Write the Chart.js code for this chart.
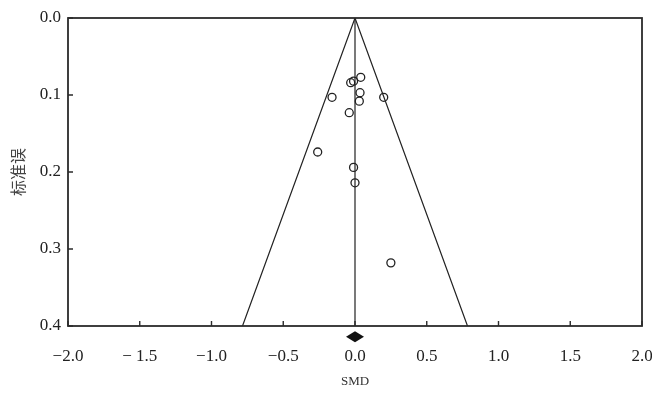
<!DOCTYPE html>
<html>
<head>
<meta charset="utf-8">
<script src="https://cdn.jsdelivr.net/npm/chart.js@4.4.1/dist/chart.umd.min.js"></script>
<style>
  html, body { margin: 0; padding: 0; background: #fff; }
  #wrap { width: 652px; height: 393px; position: relative; }
</style>
</head>
<body>
<div id="wrap"><canvas id="funnelChart"></canvas></div>
<script>
// study estimates (SMD) and their standard errors
const studySMD = [-0.03, -0.01, 0.04, 0.035, 0.03, -0.04, -0.16, 0.20, -0.26, -0.01, 0.0, 0.25];
const studySE  = [0.084, 0.082, 0.077, 0.097, 0.108, 0.123, 0.103, 0.103, 0.174, 0.194, 0.214, 0.318];

// pooled effect and funnel limits
const pooledSMD = 0.0;
const pooledDiamondSE = 0.414;
const funnelSE = [0.4, 0.0, 0.4];
const funnelSMD = [-0.784, 0.0, 0.784];

const xTicks = [-2.0, -1.5, -1.0, -0.5, 0.0, 0.5, 1.0, 1.5, 2.0];
const xTickLabels = ['\u22122.0', '\u2212 1.5', '\u22121.0', '\u22120.5', '0.0', '0.5', '1.0', '1.5', '2.0'];
const yTicks = [0.0, 0.1, 0.2, 0.3, 0.4];
const yTickLabels = ['0.0', '0.1', '0.2', '0.3', '0.4'];

const serif = '"Liberation Serif", "DejaVu Serif", serif';

// box round the plot, inward ticks, and the pooled diamond under the axis
const frame = {
    id: 'frame',
    afterDraw(chart) {
        const { ctx, chartArea: a, scales } = chart;
        ctx.save();
        ctx.strokeStyle = '#2b2b2b';
        ctx.lineWidth = 1.8;
        ctx.strokeRect(a.left, a.top, a.right - a.left, a.bottom - a.top);
        ctx.lineWidth = 1.4;
        ctx.beginPath();
        xTicks.forEach(v => {
            const px = scales.x.getPixelForValue(v);
            ctx.moveTo(px, a.bottom);
            ctx.lineTo(px, a.bottom - 5);
        });
        yTicks.forEach(v => {
            const py = scales.y.getPixelForValue(v);
            ctx.moveTo(a.left, py);
            ctx.lineTo(a.left + 5, py);
        });
        ctx.stroke();

        const dx = scales.x.getPixelForValue(pooledSMD);
        const dy = scales.y.getPixelForValue(pooledDiamondSE);
        ctx.fillStyle = '#111';
        ctx.beginPath();
        ctx.moveTo(dx - 9, dy);
        ctx.lineTo(dx, dy - 5.5);
        ctx.lineTo(dx + 9, dy);
        ctx.lineTo(dx, dy + 5.5);
        ctx.closePath();
        ctx.fill();
        ctx.restore();
    }
};

const ctx = document.getElementById('funnelChart').getContext('2d');

new Chart(ctx, {
    type: 'scatter',
    data: {
        datasets: [
            {
                label: 'studies',
                data: studySMD.map((v, i) => ({ x: v, y: studySE[i] })),
                pointRadius: 4,
                pointBorderWidth: 1.3,
                pointBackgroundColor: 'rgba(255,255,255,0)',
                pointBorderColor: '#222',
                order: 1
            },
            {
                label: 'funnel',
                type: 'line',
                data: funnelSMD.map((v, i) => ({ x: v, y: funnelSE[i] })),
                borderColor: '#222',
                borderWidth: 1.2,
                pointRadius: 0,
                fill: false,
                tension: 0,
                order: 2
            },
            {
                label: 'pooled',
                type: 'line',
                data: [{ x: pooledSMD, y: 0 }, { x: pooledSMD, y: 0.4 }],
                borderColor: '#222',
                borderWidth: 1.2,
                pointRadius: 0,
                fill: false,
                order: 3
            }
        ]
    },
    options: {
        responsive: true,
        maintainAspectRatio: false,
        animation: false,
        layout: {
            padding: { top: 18, right: 10, left: 0, bottom: 0 }
        },
        plugins: {
            legend: { display: false },
            tooltip: { enabled: false }
        },
        scales: {
            x: {
                type: 'linear',
                min: -2,
                max: 2,
                afterBuildTicks: scale => {
                    scale.ticks = xTicks.map(v => ({ value: v }));
                },
                afterFit: scale => {
                    scale.height = 67;
                    scale.paddingLeft = 0;
                    scale.paddingRight = 0;
                },
                grid: { display: false, drawTicks: false },
                border: { display: false },
                ticks: {
                    padding: 20,
                    color: '#222',
                    font: { family: serif, size: 17 },
                    callback: (v) => xTickLabels[xTicks.indexOf(v)]
                },
                title: {
                    display: true,
                    text: 'SMD',
                    color: '#333',
                    font: { family: serif, size: 13 },
                    padding: { top: 7 }
                }
            },
            y: {
                type: 'linear',
                min: 0,
                max: 0.4,
                reverse: true,
                afterBuildTicks: scale => {
                    scale.ticks = yTicks.map(v => ({ value: v }));
                },
                afterFit: scale => {
                    scale.width = 68;
                    scale.paddingTop = 0;
                    scale.paddingBottom = 0;
                },
                grid: { display: false, drawTicks: false },
                border: { display: false },
                ticks: {
                    padding: 7,
                    color: '#222',
                    font: { family: serif, size: 17 },
                    callback: (v) => yTickLabels[yTicks.indexOf(v)]
                },
                title: {
                    display: true,
                    text: '标准误',
                    color: '#444',
                    font: { family: '"Noto Sans CJK SC", sans-serif', size: 16 },
                    padding: { top: 8, bottom: 0 }
                }
            }
        }
    },
    plugins: [frame]
});
</script>
</body>
</html>
